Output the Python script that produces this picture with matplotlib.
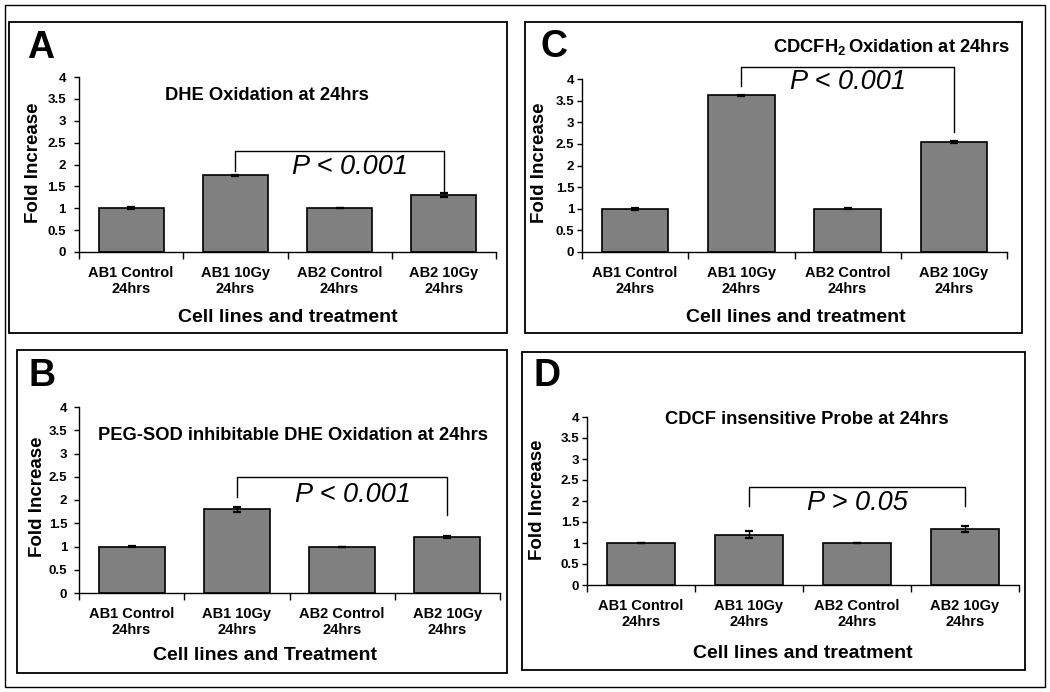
import matplotlib
matplotlib.use("Agg")
import matplotlib.pyplot as plt
from matplotlib.patches import Rectangle

plt.rcParams['font.family'] = ['Liberation Sans', 'DejaVu Sans']
plt.rcParams['mathtext.fontset'] = 'custom'
plt.rcParams['mathtext.rm'] = 'Liberation Sans'
plt.rcParams['mathtext.bf'] = 'Liberation Sans:bold'

# ---------------- data ----------------
categories = ["AB1 Control\n24hrs", "AB1 10Gy\n24hrs", "AB2 Control\n24hrs", "AB2 10Gy\n24hrs"]
yticks = [0, 0.5, 1, 1.5, 2, 2.5, 3, 3.5, 4]
ytick_labels = ["0", "0.5", "1", "1.5", "2", "2.5", "3", "3.5", "4"]

a_values = [1.0, 1.75, 1.0, 1.30]
a_errors = [0.02, 0.02, 0.0, 0.05]
b_values = [1.0, 1.80, 1.0, 1.20]
b_errors = [0.02, 0.05, 0.0, 0.02]
c_values = [1.0, 3.62, 1.0, 2.55]
c_errors = [0.02, 0.02, 0.01, 0.02]
d_values = [1.0, 1.20, 1.0, 1.33]
d_errors = [0.01, 0.08, 0.01, 0.07]

titles = ["DHE Oxidation at 24hrs",
          "PEG-SOD inhibitable DHE Oxidation at 24hrs",
          r"CDCFH$_\mathbf{2}\,$Oxidation at 24hrs",
          "CDCF insensitive Probe at 24hrs"]
xlabels = ["Cell lines and treatment", "Cell lines and Treatment",
           "Cell lines and treatment", "Cell lines and treatment"]
pvals = ["P < 0.001", "P < 0.001", "P < 0.001", "P > 0.05"]
letters = ["A", "B", "C", "D"]

# ---------------- layout (pixels) ----------------
W, H = 1050, 692
fig = plt.figure(figsize=(W / 100, H / 100), dpi=100)


def fx(x):
    return x / W


def fy(y):
    return 1 - y / H


def frame(x0, y0, x1, y1, lw):
    fig.patches.append(Rectangle((fx(x0), fy(y1)), fx(x1) - fx(x0), fy(y0) - fy(y1),
                                 transform=fig.transFigure, fill=False,
                                 edgecolor='black', linewidth=lw))


frame(5, 5, 1045, 687, 1.0)

panels = [
    # A
    dict(values=a_values, errors=a_errors, title=titles[0], xlabel=xlabels[0], p=pvals[0], letter=letters[0],
         box=(9, 22, 507, 333), ax=(79, 77, 496, 252), title_xy=(267, 95), letter_xy=(27, 48),
         xlabel_xy=(288, 317), ylabel_xy=(33, 163), ypad=6,
         br_top=2.3, br_left=1.85, br_right=1.38, p_xy=(2.6, 1.95)),
    # B
    dict(values=b_values, errors=b_errors, title=titles[1], xlabel=xlabels[1], p=pvals[1], letter=letters[1],
         box=(17, 350, 507, 673), ax=(79, 407, 500, 593), title_xy=(293, 435), letter_xy=(28, 376),
         xlabel_xy=(265, 655), ylabel_xy=(37, 497), ypad=5,
         br_top=2.49, br_left=2.06, br_right=1.68, p_xy=(2.6, 2.1)),
    # C
    dict(values=c_values, errors=c_errors, title=titles[2], xlabel=xlabels[2], p=pvals[2], letter=letters[2],
         box=(525, 22, 1022, 333), ax=(582, 79, 1007, 252), title_xy=(891, 47), letter_xy=(540, 47),
         xlabel_xy=(796, 317), ylabel_xy=(540, 163), ypad=2,
         br_top=4.28, br_left=3.84, br_right=2.78, p_xy=(2.5, 3.93)),
    # D
    dict(values=d_values, errors=d_errors, title=titles[3], xlabel=xlabels[3], p=pvals[3], letter=letters[3],
         box=(522, 352, 1025, 670), ax=(587, 417, 1019, 585), title_xy=(807, 420), letter_xy=(533, 376),
         xlabel_xy=(803, 653), ylabel_xy=(538, 500), ypad=2,
         br_top=2.33, br_left=1.88, br_right=1.88, p_xy=(2.5, 1.95)),
]

for pn in panels:
    frame(*pn['box'], 1.3)
    l, t, r, b = pn['ax']
    ax = fig.add_axes([fx(l), fy(b), fx(r) - fx(l), fy(t) - fy(b)])
    x = [i + 0.5 for i in range(len(categories))]
    ax.bar(x, pn['values'], width=0.625, color='#808080', edgecolor='black', linewidth=1.2, zorder=2)
    ax.errorbar(x, pn['values'], yerr=pn['errors'], fmt='none', ecolor='black',
                elinewidth=1.0, capsize=3, capthick=1.6, zorder=3)
    ax.set_xlim(0, 4)
    ax.set_ylim(0, 4)
    ax.set_yticks(yticks)
    ax.set_yticklabels(ytick_labels, fontsize=9.5, fontweight='bold')
    ax.set_xticks(x)
    ax.set_xticklabels(categories, fontsize=10.5, fontweight='bold', linespacing=1.2)
    ax.set_xticks([0, 1, 2, 3, 4], minor=True)
    ax.tick_params(axis='x', which='major', length=0, pad=10)
    ax.tick_params(axis='x', which='minor', length=5, width=1.0, direction='out')
    ax.tick_params(axis='y', which='major', length=3.5, width=1.0, direction='out', pad=pn['ypad'])
    for s in ['top', 'right']:
        ax.spines[s].set_visible(False)
    for s in ['left', 'bottom']:
        ax.spines[s].set_linewidth(1.0)
    ax.patch.set_alpha(0)

    ax.set_xlabel(pn['xlabel'], fontsize=14, fontweight='bold')
    ax.xaxis.label.set_va('center')
    ax.xaxis.set_label_coords((pn['xlabel_xy'][0] - l) / (r - l), (b - pn['xlabel_xy'][1]) / (b - t))
    ax.set_ylabel("Fold Increase", fontsize=13.5, fontweight='bold')
    ax.yaxis.label.set_va('center')
    ax.yaxis.set_label_coords((pn['ylabel_xy'][0] - l) / (r - l), (b - pn['ylabel_xy'][1]) / (b - t))

    # significance bracket (AB1 10Gy vs AB2 10Gy)
    ax.plot([x[1], x[1], x[3], x[3]], [pn['br_left'], pn['br_top'], pn['br_top'], pn['br_right']],
            color='black', linewidth=1.0, clip_on=False, zorder=4)
    ax.text(pn['p_xy'][0], pn['p_xy'][1], pn['p'], fontsize=19.5, fontstyle='italic',
            ha='center', va='center', zorder=5)

    fig.text(fx(pn['title_xy'][0]), fy(pn['title_xy'][1]), pn['title'], fontsize=13.2,
             fontweight='bold', ha='center', va='center')
    fig.text(fx(pn['letter_xy'][0]), fy(pn['letter_xy'][1]), pn['letter'], fontsize=27,
             fontweight='bold', ha='left', va='center')

fig.savefig("out.png", dpi=100)
